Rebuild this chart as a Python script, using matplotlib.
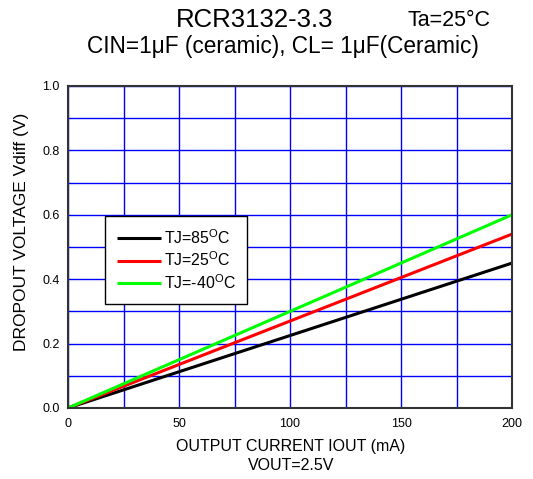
import matplotlib
matplotlib.use("Agg")
import matplotlib.pyplot as plt
import numpy as np

plt.rcParams['font.family'] = ['Liberation Sans', 'DejaVu Sans']

current_ma = [0, 200]
tj85 = [0.0, 0.45]
tj25 = [0.0, 0.54]
tjm40 = [0.0, 0.60]
labels = ['TJ=85$^{\\mathregular{O}}$C', 'TJ=25$^{\\mathregular{O}}$C', 'TJ=-40$^{\\mathregular{O}}$C']
colors = ['#000000', '#ff0000', '#00ff00']

W, H = 533, 479
fig = plt.figure(figsize=(W/100, H/100), dpi=100)
ax = fig.add_axes([68/W, 1-408/H, (512-68)/W, (408-86)/H])

for y, lab, c in zip([tj85, tj25, tjm40], labels, colors):
    ax.plot(current_ma, y, color=c, lw=2.2, label=lab, solid_capstyle='butt')

ax.set_xlim(0, 200)
ax.set_ylim(0, 1.0)
ax.set_xticks(np.arange(0, 201, 50))
ax.set_yticks(np.arange(0, 1.01, 0.2))
ax.set_yticklabels([f"{v:.1f}" for v in np.arange(0, 1.01, 0.2)])
ax.set_xticks(np.arange(0, 201, 25), minor=True)
ax.set_yticks(np.arange(0, 1.01, 0.1), minor=True)
ax.grid(True, which='both', color='#0000ff', lw=1)
ax.set_axisbelow(True)
ax.tick_params(which='both', length=0, labelsize=9)
ax.tick_params(axis='x', pad=7)
ax.tick_params(axis='y', pad=6)
for s in ax.spines.values():
    s.set_linewidth(1.5)
    s.set_color('#333333')

fig.text(291/W, 1-446/H, 'OUTPUT CURRENT IOUT (mA)', fontsize=11.5, ha='center', va='center')
fig.text(291/W, 1-466/H, 'VOUT=2.5V', fontsize=11.5, ha='center', va='center')
fig.text(22/W, 1-232/H, 'DROPOUT VOLTAGE Vdiff (V)', fontsize=12.5, ha='center', va='center', rotation=90)

fig.text(255/W, 1-20/H, 'RCR3132-3.3', fontsize=18.5, ha='center', va='center')
fig.text(408/W, 1-21/H, 'Ta=25°C', fontsize=15.5, ha='left', va='center')
fig.text(283/W, 1-47/H, 'CIN=1μF (ceramic), CL= 1μF(Ceramic)', fontsize=16.3, ha='center', va='center')

leg = ax.legend(loc='upper left', bbox_to_anchor=((105-68)/444, (408-216)/322),
                borderaxespad=0, fontsize=11.4, frameon=True, fancybox=False,
                handlelength=2.8, borderpad=0.75, labelspacing=0.25, handletextpad=0.15)
leg.get_frame().set_edgecolor('black')
leg.get_frame().set_linewidth(1)
leg.get_frame().set_alpha(1)

fig.savefig('out.png', dpi=100)
